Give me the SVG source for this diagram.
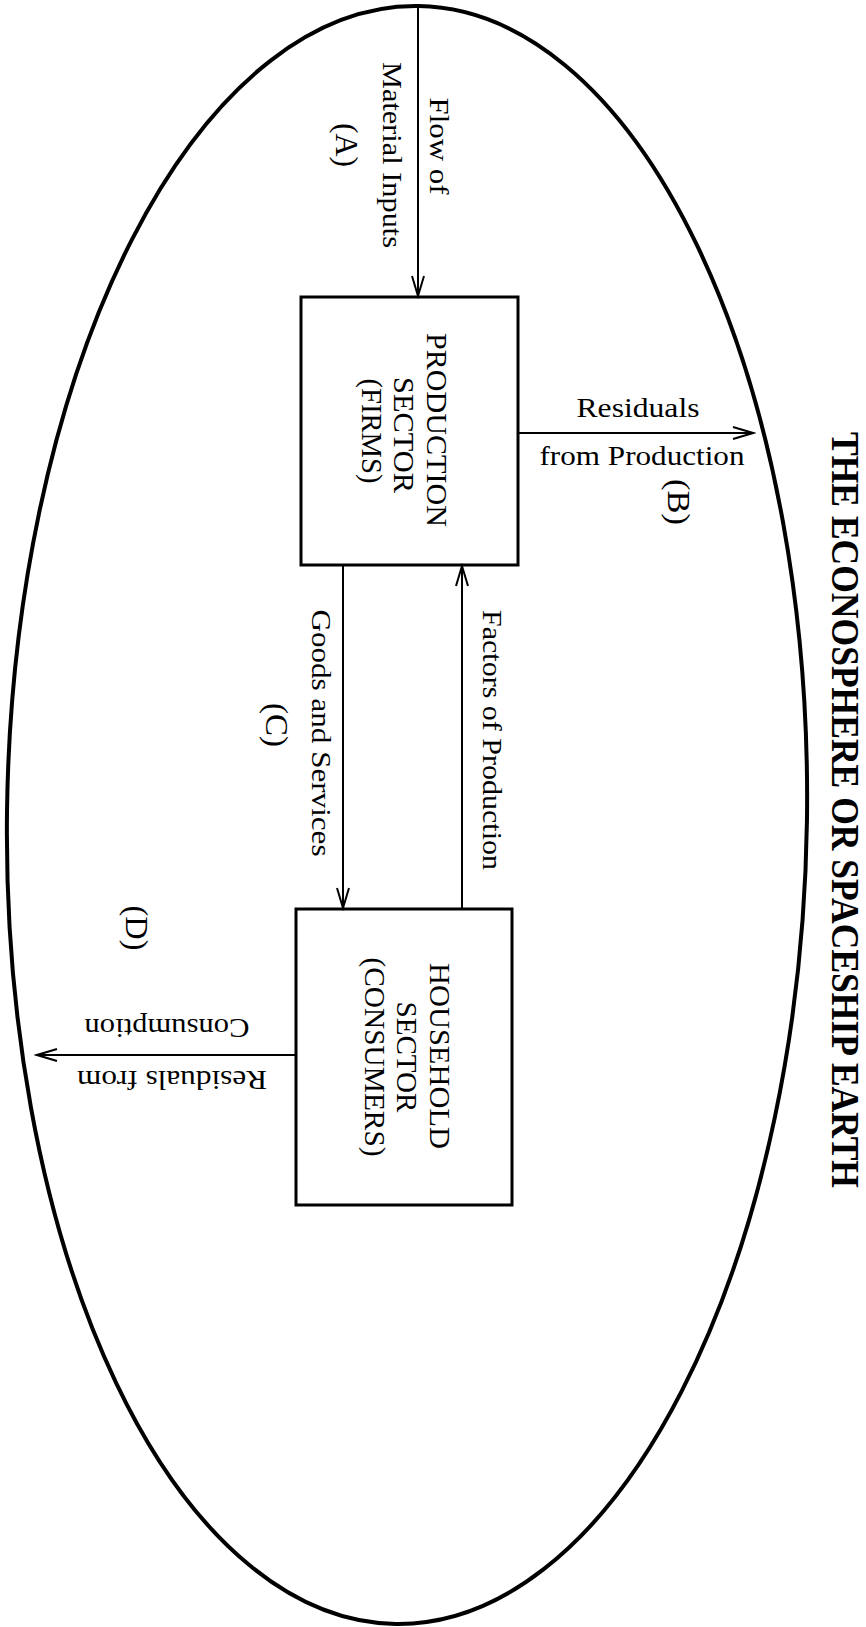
<svg xmlns="http://www.w3.org/2000/svg" width="866" height="1627" viewBox="0 0 866 1627">
  <style>
    .t { font-family: "Liberation Serif", "Times New Roman", serif; fill: #000; }
    .lbl { font-size: 28px; }
    .let { font-size: 32px; }
    .box { fill: none; stroke: #000; stroke-width: 3; }
    .cn { stroke: #000; stroke-width: 2; fill: none; }
    .bt { font-size: 30px; }
  </style>
  <defs>
    <marker id="ah" markerUnits="userSpaceOnUse" markerWidth="26" markerHeight="16" refX="23" refY="8" orient="auto">
      <path d="M3,2 L23,8 L3,14" fill="none" stroke="#000" stroke-width="2"/>
    </marker>
  </defs>
  <rect width="866" height="1627" fill="#fff"/>

  <g id="earth">
    <ellipse cx="407" cy="815" rx="400" ry="809" fill="none" stroke="#000" stroke-width="4" transform="rotate(0.8 407 815)"/>
  </g>

  <g id="title">
    <text class="t" font-size="39" font-weight="bold" textLength="756" lengthAdjust="spacingAndGlyphs" transform="translate(832,432) rotate(90)">THE ECONOSPHERE OR SPACESHIP EARTH</text>
  </g>

  <g id="production">
    <rect class="box" x="301" y="297" width="217" height="268"/>
    <text class="t bt" text-anchor="middle" textLength="194" lengthAdjust="spacingAndGlyphs" transform="translate(427,430) rotate(90)">PRODUCTION</text>
    <text class="t bt" text-anchor="middle" textLength="116" lengthAdjust="spacingAndGlyphs" transform="translate(394,435) rotate(90)">SECTOR</text>
    <text class="t bt" text-anchor="middle" textLength="105" lengthAdjust="spacingAndGlyphs" transform="translate(362,431) rotate(90)">(FIRMS)</text>
  </g>

  <g id="household">
    <rect class="box" x="296" y="909" width="216" height="296"/>
    <text class="t bt" text-anchor="middle" textLength="186" lengthAdjust="spacingAndGlyphs" transform="translate(430,1056) rotate(90)">HOUSEHOLD</text>
    <text class="t bt" text-anchor="middle" textLength="111" lengthAdjust="spacingAndGlyphs" transform="translate(397,1057) rotate(90)">SECTOR</text>
    <text class="t bt" text-anchor="middle" textLength="199" lengthAdjust="spacingAndGlyphs" transform="translate(365,1057) rotate(90)">(CONSUMERS)</text>
  </g>

  <g id="connectors">
    <line class="cn" x1="418" y1="7" x2="418" y2="296" marker-end="url(#ah)"/>
    <line class="cn" x1="518" y1="433" x2="753" y2="433" marker-end="url(#ah)"/>
    <line class="cn" x1="343" y1="565" x2="343" y2="908" marker-end="url(#ah)"/>
    <line class="cn" x1="462" y1="909" x2="462" y2="566" marker-end="url(#ah)"/>
    <line class="cn" x1="296" y1="1055" x2="37" y2="1055" marker-end="url(#ah)"/>
  </g>

  <g id="labels">
    <text class="t lbl" text-anchor="middle" textLength="97" lengthAdjust="spacingAndGlyphs" transform="translate(430,146) rotate(90)">Flow of</text>
    <text class="t lbl" text-anchor="middle" textLength="186" lengthAdjust="spacingAndGlyphs" transform="translate(383,155) rotate(90)">Material Inputs</text>
    <text class="t let" text-anchor="middle" textLength="44" lengthAdjust="spacingAndGlyphs" transform="translate(336,145) rotate(90)">(A)</text>

    <text class="t lbl" x="638" y="417" text-anchor="middle" textLength="123" lengthAdjust="spacingAndGlyphs">Residuals</text>
    <text class="t lbl" x="642" y="465" text-anchor="middle" textLength="205" lengthAdjust="spacingAndGlyphs">from Production</text>
    <text class="t let" text-anchor="middle" textLength="46" lengthAdjust="spacingAndGlyphs" transform="translate(668,502) rotate(90)">(B)</text>

    <text class="t lbl" text-anchor="middle" textLength="247" lengthAdjust="spacingAndGlyphs" transform="translate(312,733) rotate(90)">Goods and Services</text>
    <text class="t let" text-anchor="middle" textLength="44" lengthAdjust="spacingAndGlyphs" transform="translate(266,725) rotate(90)">(C)</text>
    <text class="t lbl" text-anchor="middle" textLength="260" lengthAdjust="spacingAndGlyphs" transform="translate(483,740) rotate(90)">Factors of Production</text>

    <text class="t let" text-anchor="middle" textLength="45" lengthAdjust="spacingAndGlyphs" transform="translate(126,928) rotate(90)">(D)</text>
    <text class="t lbl" text-anchor="middle" textLength="165" lengthAdjust="spacingAndGlyphs" transform="translate(167,1019) rotate(180)">Consumption</text>
    <text class="t lbl" text-anchor="middle" textLength="190" lengthAdjust="spacingAndGlyphs" transform="translate(172,1071) rotate(180)">Residuals from</text>
  </g>
</svg>
